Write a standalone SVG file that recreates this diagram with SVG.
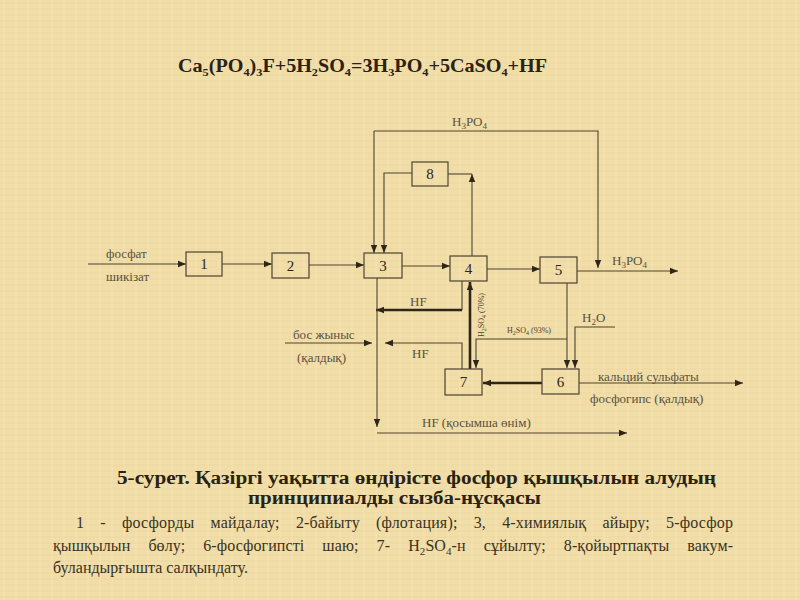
<svg xmlns="http://www.w3.org/2000/svg" width="800" height="600" viewBox="0 0 800 600" font-family="'Liberation Serif','Times New Roman','DejaVu Serif',serif">
<defs>
<pattern id="tex" width="12" height="12" patternUnits="userSpaceOnUse">
<rect width="12" height="12" fill="#f0dda7"/>
<path d="M0,3 H12 M0,9 H12" stroke="#e6cf92" stroke-width="1" opacity="0.5"/>
<path d="M4,0 V12" stroke="#f7e8bd" stroke-width="1" opacity="0.6"/>
</pattern>
<marker id="ah" markerUnits="userSpaceOnUse" markerWidth="10" markerHeight="8" refX="8" refY="4" orient="auto">
<path d="M0,0.8 L8,4 L0,7.2 Z" fill="#2e2618"/>
</marker>
</defs>
<style>
text{font-family:'Liberation Serif','Times New Roman','DejaVu Serif',serif}
.bx{fill:none;stroke:#4e4430;stroke-width:1.2}
.c{fill:none;stroke:#4e4430;stroke-width:1.1}
.t{stroke-width:2.6;stroke:#2e2618}
.n{font-size:15px;fill:#2e2618;text-anchor:middle}
.lb{font-size:13px;fill:#5a5140}
.sm{font-size:8px;fill:#4a4232}
.hd{font-weight:bold;fill:#2a2214}
.lg{font-size:16px;fill:#3a3222}
</style>
<rect width="800" height="600" fill="url(#tex)"/>

<text class="hd" x="178" y="72" font-size="18" textLength="369" lengthAdjust="spacingAndGlyphs">Ca<tspan font-size="11" dy="4">5</tspan><tspan dy="-4">(PO</tspan><tspan font-size="11" dy="4">4</tspan><tspan dy="-4">)</tspan><tspan font-size="11" dy="4">3</tspan><tspan dy="-4">F+5H</tspan><tspan font-size="11" dy="4">2</tspan><tspan dy="-4">SO</tspan><tspan font-size="11" dy="4">4</tspan><tspan dy="-4">=3H</tspan><tspan font-size="11" dy="4">3</tspan><tspan dy="-4">PO</tspan><tspan font-size="11" dy="4">4</tspan><tspan dy="-4">+5CaSO</tspan><tspan font-size="11" dy="4">4</tspan><tspan dy="-4">+HF</tspan></text>

<g id="connectors">
<path class="c" d="M88,264 H186" marker-end="url(#ah)"/>
<path class="c" d="M222,264 H272" marker-end="url(#ah)"/>
<path class="c" d="M309,265 H364" marker-end="url(#ah)"/>
<path class="c" d="M402,266 H450" marker-end="url(#ah)"/>
<path class="c" d="M487,269 H540" marker-end="url(#ah)"/>
<path class="c" d="M577,271 H678" marker-end="url(#ah)"/>
<path class="c" d="M374,131 H598 V268" marker-end="url(#ah)"/>
<path class="c" d="M374,131 V253" stroke-width="2" marker-end="url(#ah)"/>
<path class="c" d="M412,173 H384 V253" stroke-width="2" marker-end="url(#ah)"/>
<path class="c" d="M448,174 H472"/>
<path class="c" d="M472,256 V174" marker-end="url(#ah)"/>
<path class="c" d="M462,281 V310"/>
<path class="c t" d="M462,310 H376" marker-end="url(#ah)"/>
<path class="c" d="M377,278 V427" marker-end="url(#ah)"/>
<path class="c" d="M377,433 H627" marker-end="url(#ah)"/>
<path class="c" d="M285,343 H372" marker-end="url(#ah)"/>
<path class="c" d="M462,369 V343 H385" marker-end="url(#ah)"/>
<path class="c t" d="M470,369 V282" marker-end="url(#ah)"/>
<path class="c" d="M567,283 V368" marker-end="url(#ah)"/>
<path class="c" d="M567,339 H476 V368" marker-end="url(#ah)"/>
<path class="c" d="M615,327 H575 V368" marker-end="url(#ah)"/>
<path class="c t" d="M542,383 H483" marker-end="url(#ah)"/>
<path class="c" d="M579,383 H743" marker-end="url(#ah)"/>
</g>

<g id="n1"><rect class="bx" x="186" y="252" width="36" height="24"/><text class="n" x="204" y="269">1</text></g>
<g id="n2"><rect class="bx" x="272" y="253" width="37" height="25"/><text class="n" x="290.5" y="271">2</text></g>
<g id="n3"><rect class="bx" x="364" y="253" width="38" height="25"/><text class="n" x="383" y="271">3</text></g>
<g id="n4"><rect class="bx" x="450" y="256" width="37" height="25"/><text class="n" x="468.5" y="274">4</text></g>
<g id="n5"><rect class="bx" x="540" y="257" width="37" height="26"/><text class="n" x="558.5" y="275">5</text></g>
<g id="n6"><rect class="bx" x="542" y="369" width="37" height="25"/><text class="n" x="560.5" y="387">6</text></g>
<g id="n7"><rect class="bx" x="445" y="369" width="37" height="26"/><text class="n" x="463.5" y="387">7</text></g>
<g id="n8"><rect class="bx" x="412" y="162" width="36" height="24"/><text class="n" x="430" y="179">8</text></g>

<g id="labels">
<text class="lb" x="106" y="258">фосфат</text>
<text class="lb" x="106" y="281">шикізат</text>
<text class="lb" x="452" y="126">H<tspan font-size="9" dy="3">3</tspan><tspan dy="-3">PO</tspan><tspan font-size="9" dy="3">4</tspan></text>
<text class="lb" x="612" y="265">H<tspan font-size="9" dy="3">3</tspan><tspan dy="-3">PO</tspan><tspan font-size="9" dy="3">4</tspan></text>
<text class="lb" x="410" y="306">HF</text>
<text class="lb" x="293" y="339">бос жыныс</text>
<text class="lb" x="297" y="362">(қалдық)</text>
<text class="lb" x="412" y="358">HF</text>
<text class="sm" transform="translate(484,337) rotate(-90)">H<tspan font-size="6" dy="2">2</tspan><tspan dy="-2">SO</tspan><tspan font-size="6" dy="2">4</tspan><tspan dy="-2"> (70%)</tspan></text>
<text class="sm" x="507" y="333">H<tspan font-size="6" dy="2">2</tspan><tspan dy="-2">SO</tspan><tspan font-size="6" dy="2">4</tspan><tspan dy="-2"> (93%)</tspan></text>
<text class="lb" x="582" y="322">H<tspan font-size="9" dy="3">2</tspan><tspan dy="-3">O</tspan></text>
<text class="lb" x="598" y="381">кальций сульфаты</text>
<text class="lb" x="590" y="403">фосфогипс (қалдық)</text>
<text class="lb" x="422" y="427">HF (қосымша өнім)</text>
</g>

<text class="hd" x="117" y="484" font-size="18" textLength="599" lengthAdjust="spacingAndGlyphs">5-сурет. Қазіргі уақытта өндірісте фосфор қышқылын алудың</text>
<text class="hd" x="248" y="504" font-size="18" textLength="293" lengthAdjust="spacingAndGlyphs">принципиалды сызба-нұсқасы</text>
<text class="lg" x="76" y="528" word-spacing="12" textLength="657" lengthAdjust="spacing">1 - фосфорды майдалау; 2-байыту (флотация); 3, 4-химиялық айыру; 5-фосфор</text>
<text class="lg" x="53" y="551" word-spacing="14" textLength="680" lengthAdjust="spacing">қышқылын бөлу; 6-фосфогипсті шаю; 7- H<tspan font-size="11" dy="4">2</tspan><tspan dy="-4">SO</tspan><tspan font-size="11" dy="4">4</tspan><tspan dy="-4">-н сұйылту; 8-қойыртпақты вакум-</tspan></text>
<text class="lg" x="53" y="573">буландырғышта салқындату.</text>
</svg>
